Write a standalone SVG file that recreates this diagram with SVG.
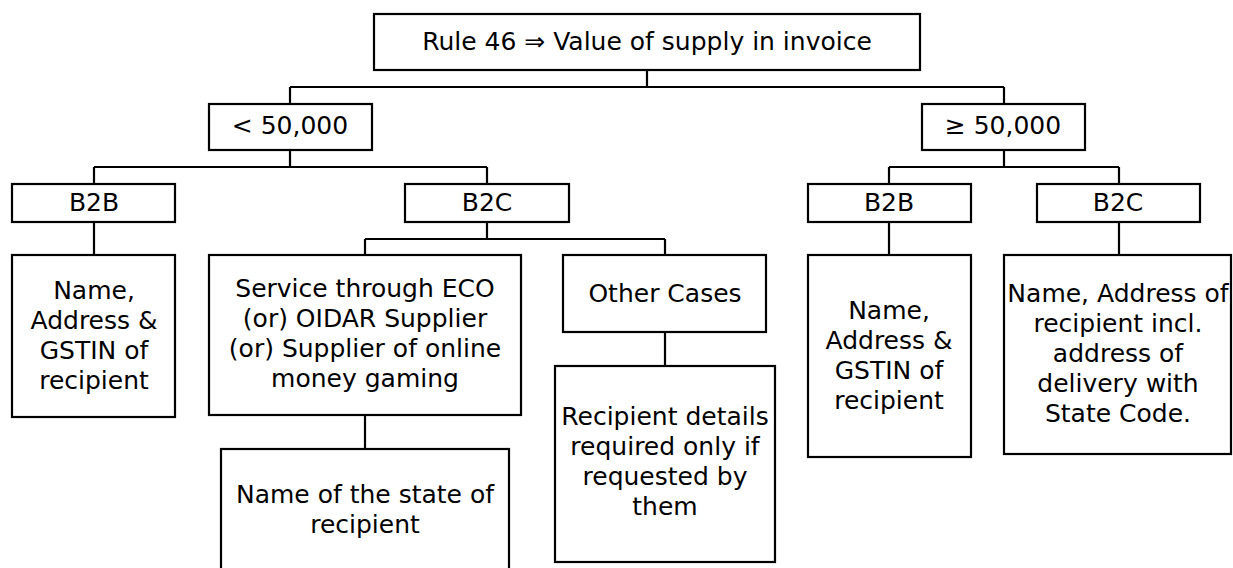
<svg xmlns="http://www.w3.org/2000/svg" width="1233" height="568" viewBox="0 0 1233 568">
<style>
.box{fill:#fff;stroke:#000;stroke-width:2.2}
.ln{fill:none;stroke:#000;stroke-width:2.2}
text{font-family:"DejaVu Sans","Liberation Sans",sans-serif;font-size:25px;fill:#000;text-anchor:middle}
</style>
<rect width="1233" height="568" fill="#fff"/>
<g id="connectors">
<path class="ln" d="M647,70V87M290,87H1004M290,87V104M1004,87V104"/>
<path class="ln" d="M290,150V167M94,167H487M94,167V184M487,167V184"/>
<path class="ln" d="M1004,150V167M889,167H1119M889,167V184M1119,167V184"/>
<path class="ln" d="M94,222V255M889,222V255M1119,222V255"/>
<path class="ln" d="M487,222V239M365,239H665M365,239V255M665,239V255"/>
<path class="ln" d="M365,415V449M665,332V366"/>
</g>
<g id="root"><rect class="box" x="374" y="14" width="546" height="56"/><text x="647" y="50">Rule 46 ⇒ Value of supply in invoice</text></g>
<g id="lt50"><rect class="box" x="209" y="104" width="163" height="46"/><text x="290" y="134">&lt; 50,000</text></g>
<g id="ge50"><rect class="box" x="922" y="104" width="163" height="46"/><text x="1003" y="134">≥ 50,000</text></g>
<g id="b2b-left"><rect class="box" x="12" y="184" width="163" height="38"/><text x="94" y="211">B2B</text></g>
<g id="b2c-left"><rect class="box" x="405" y="184" width="164" height="38"/><text x="487" y="211">B2C</text></g>
<g id="b2b-right"><rect class="box" x="808" y="184" width="163" height="38"/><text x="889" y="211">B2B</text></g>
<g id="b2c-right"><rect class="box" x="1037" y="184" width="163" height="38"/><text x="1118" y="211">B2C</text></g>
<g id="leaf-b2b-left"><rect class="box" x="12" y="255" width="163" height="162"/>
<text x="94" y="299">Name,</text><text x="94" y="329">Address &amp;</text><text x="94" y="359">GSTIN of</text><text x="94" y="389">recipient</text></g>
<g id="service"><rect class="box" x="209" y="255" width="312" height="160"/>
<text x="365" y="297">Service through ECO</text><text x="365" y="327">(or) OIDAR Supplier</text><text x="365" y="357">(or) Supplier of online</text><text x="365" y="387">money gaming</text></g>
<g id="other"><rect class="box" x="563" y="255" width="203" height="77"/><text x="665" y="302">Other Cases</text></g>
<g id="state"><rect class="box" x="221" y="449" width="288" height="125"/>
<text x="365" y="503">Name of the state of</text><text x="365" y="533">recipient</text></g>
<g id="recipient"><rect class="box" x="555" y="366" width="220" height="196"/>
<text x="665" y="425">Recipient details</text><text x="665" y="455">required only if</text><text x="665" y="485">requested by</text><text x="665" y="515">them</text></g>
<g id="leaf-b2b-right"><rect class="box" x="808" y="255" width="163" height="202"/>
<text x="889" y="319">Name,</text><text x="889" y="349">Address &amp;</text><text x="889" y="379">GSTIN of</text><text x="889" y="409">recipient</text></g>
<g id="leaf-b2c-right"><rect class="box" x="1004" y="255" width="227" height="199"/>
<text x="1118" y="302">Name, Address of</text><text x="1118" y="332">recipient incl.</text><text x="1118" y="362">address of</text><text x="1118" y="392">delivery with</text><text x="1118" y="422">State Code.</text></g>
</svg>
